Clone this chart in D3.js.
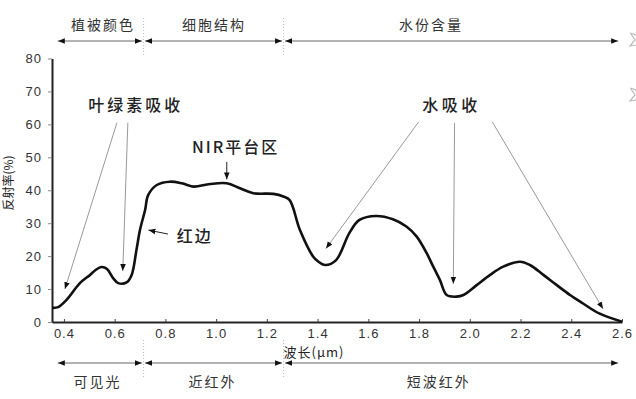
<!DOCTYPE html>
<html>
<head>
<meta charset="utf-8">
<script src="https://cdn.jsdelivr.net/npm/d3@7"></script>
<style>
  body { margin: 0; background: #fff; }
  svg { display: block; font-family: "Noto Sans CJK SC", "Liberation Sans", sans-serif; }
  .tick text { font-family: "Liberation Sans", Arial, sans-serif; font-size: 13px; fill: #333; letter-spacing: 1px; }
</style>
</head>
<body>
<div id="chart"></div>
<script>
// wavelength (um) and reflectance (%)
const wavelength = [0.353, 0.377, 0.41, 0.463, 0.503, 0.525, 0.548, 0.57, 0.594, 0.614, 0.647, 0.667, 0.686, 0.70, 0.72, 0.732,
    0.766, 0.818, 0.865, 0.91, 0.976, 1.042, 1.094, 1.147, 1.226, 1.265, 1.29, 1.33, 1.383, 1.40, 1.43, 1.473,
    1.525, 1.565, 1.631, 1.697, 1.75, 1.79, 1.83, 1.856, 1.882, 1.909, 1.948, 1.975, 2.027, 2.08, 2.132, 2.198,
    2.237, 2.29, 2.343, 2.395, 2.445, 2.51, 2.6];
const reflectance = [4.3, 4.5, 6.7, 11.8, 14.3, 15.8, 16.7, 16.1, 13.3, 11.8, 12.0, 14.3, 21.9, 28, 34, 38.5,
    41.6, 42.6, 42.1, 41.1, 41.9, 42.1, 40.6, 39.1, 38.9, 38.1, 37, 28, 19.8, 18.5, 17.3, 18.8,
    27, 31, 32.2, 31.2, 29, 26, 20.9, 16.8, 12.8, 8.2, 7.7, 8.2, 11.2, 14.3, 16.8, 18.3,
    17.3, 14.3, 11.2, 8.2, 5.7, 2.6, 0.1];

const xTicks = [0.4, 0.6, 0.8, 1.0, 1.2, 1.4, 1.6, 1.8, 2.0, 2.2, 2.4, 2.6];
const yTicks = [0, 10, 20, 30, 40, 50, 60, 70, 80];

// band labels above and below the chart (arrow start, arrow end, label centre in um)
const topBands = ["植被颜色", "细胞结构", "水份含量"];
const bottomBands = ["可见光", "近红外", "短波红外"];
const bandStart = [0.376, 0.72, 1.272];
const bandEnd = [0.707, 1.26, 2.585];
const topLabelAt = [0.554, 0.992, 1.847];
const bottomLabelAt = [0.532, 0.986, 1.878];
const bandEdges = [0.714, 1.266];

// annotations: label, label position, arrow lines [from wl, from %, to wl, to %]
const noteLabels = ["叶绿素吸收", "NIR平台区", "红边", "水吸收"];
const notePos = [[0.683, 65.3], [1.077, 52.6], [0.845, 25.5], [1.928, 65.3]];
const noteAnchor = ["middle", "middle", "start", "middle"];
const noteSpacing = [3, 2, 2, 3.5];
const noteArrows = [
    [[0.609, 60.5, 0.404, 10.0], [0.652, 60.5, 0.632, 15.5]],
    [[1.042, 48.6, 1.042, 43.3]],
    [[0.81, 26.7, 0.733, 27.9]],
    [[1.798, 60.7, 1.433, 22.3], [1.94, 60.4, 1.935, 11.6], [2.089, 60.7, 2.525, 4.0]]
];

const width = 636, height = 399;
const svg = d3.select("#chart").append("svg")
    .attr("width", width)
    .attr("height", height);

const x = d3.scaleLinear().domain([0.353, 2.6]).range([52, 622]);
const y = d3.scaleLinear().domain([0, 80]).range([322, 58.5]);

svg.append("defs").append("marker")
    .attr("id", "head")
    .attr("viewBox", "0 0 10 10")
    .attr("refX", 10).attr("refY", 5)
    .attr("markerWidth", 7).attr("markerHeight", 7)
    .attr("markerUnits", "userSpaceOnUse")
    .attr("orient", "auto")
    .append("path")
    .attr("d", "M0,1 L10,5 L0,9 Z")
    .attr("fill", "#111");

// axes
const yAxis = svg.append("g")
    .attr("transform", `translate(${x(0.353)},0)`)
    .call(d3.axisLeft(y).tickValues(yTicks).tickSizeInner(4).tickSizeOuter(0).tickPadding(6));
yAxis.select(".domain").attr("stroke", "#222").attr("stroke-width", 2);
yAxis.selectAll(".tick line").attr("stroke", "#888");

const xAxis = svg.append("g")
    .attr("transform", `translate(0,${y(0)})`)
    .call(d3.axisBottom(x).tickValues(xTicks).tickFormat(d3.format(".1f"))
        .tickSizeInner(-3).tickSizeOuter(0).tickPadding(7));
xAxis.select(".domain").attr("stroke", "#222").attr("stroke-width", 2);
xAxis.selectAll(".tick line").attr("stroke", "#444");

svg.append("text")
    .attr("x", 314).attr("y", 357)
    .attr("text-anchor", "middle")
    .attr("font-size", 13).attr("fill", "#222")
    .attr("letter-spacing", 1)
    .text("波长(μm)");

svg.append("text")
    .attr("transform", "translate(13,183) rotate(-90)")
    .attr("text-anchor", "middle")
    .attr("font-size", 12).attr("fill", "#222")
    .text("反射率(%)");

// spectral curve
const line = d3.line()
    .x((d, i) => x(wavelength[i]))
    .y(d => y(d))
    .curve(d3.curveCatmullRom.alpha(0.5));

svg.append("path")
    .datum(reflectance)
    .attr("d", line)
    .attr("fill", "none")
    .attr("stroke", "#111")
    .attr("stroke-width", 2.6)
    .attr("stroke-linejoin", "round");

// band arrows top and bottom
function drawBands(labels, labelAt, lineY, textY) {
    labels.forEach((label, i) => {
        const g = svg.append("g");
        g.append("line")
            .attr("x1", x(bandStart[i])).attr("x2", x(bandEnd[i]))
            .attr("y1", lineY).attr("y2", lineY)
            .attr("stroke", "#666").attr("stroke-width", 1)
            .attr("marker-end", "url(#head)");
        g.append("line")
            .attr("x1", x(bandEnd[i])).attr("x2", x(bandStart[i]))
            .attr("y1", lineY).attr("y2", lineY)
            .attr("stroke", "none")
            .attr("marker-end", "url(#head)");
        g.append("text")
            .attr("x", x(labelAt[i]))
            .attr("y", textY)
            .attr("text-anchor", "middle")
            .attr("dominant-baseline", "middle")
            .attr("font-size", 14).attr("fill", "#333")
            .attr("letter-spacing", 2)
            .text(label);
    });
    bandEdges.forEach(w => {
        svg.append("line")
            .attr("x1", x(w)).attr("x2", x(w))
            .attr("y1", lineY - 23).attr("y2", lineY + 14)
            .attr("stroke", "#bbb").attr("stroke-width", 1)
            .attr("stroke-dasharray", "1,2");
    });
}
drawBands(topBands, topLabelAt, 41, 26);
drawBands(bottomBands, bottomLabelAt, 363, 383);

// annotations
noteLabels.forEach((label, i) => {
    svg.append("text")
        .attr("x", x(notePos[i][0]))
        .attr("y", y(notePos[i][1]))
        .attr("text-anchor", noteAnchor[i])
        .attr("dominant-baseline", "middle")
        .attr("font-size", 16).attr("font-weight", 500)
        .attr("fill", "#222")
        .attr("letter-spacing", noteSpacing[i])
        .text(label);
    noteArrows[i].forEach(a => {
        svg.append("line")
            .attr("x1", x(a[0])).attr("y1", y(a[1]))
            .attr("x2", x(a[2])).attr("y2", y(a[3]))
            .attr("stroke", i === 1 || i === 2 ? "#222" : "#999")
            .attr("stroke-width", 1)
            .attr("marker-end", "url(#head)");
    });
});

// faint marks at the right edge of the source image
[40, 95].forEach(cy => {
    svg.append("path")
        .attr("d", `M630,${cy - 7} L636,${cy - 5} M631,${cy - 6} L635,${cy} L630,${cy + 6} L636,${cy + 5}`)
        .attr("fill", "none").attr("stroke", "#bbb").attr("stroke-width", 1.2);
});
</script>
</body>
</html>
